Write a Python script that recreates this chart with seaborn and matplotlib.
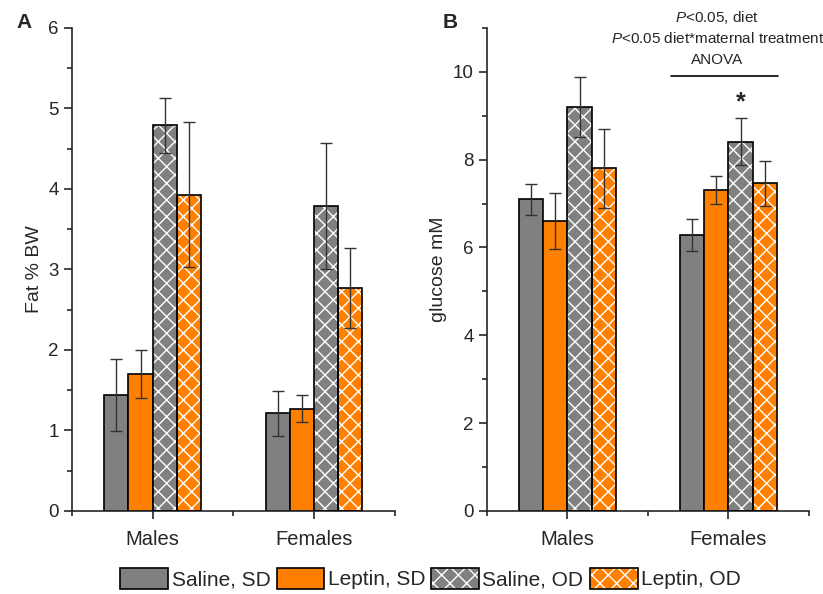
import numpy as np
import pandas as pd
import seaborn as sns
import matplotlib.pyplot as plt
from matplotlib.patches import Patch, Rectangle
from matplotlib.legend_handler import HandlerTuple
from matplotlib.ticker import MultipleLocator

# data
groups = ["Saline, SD", "Leptin, SD", "Saline, OD", "Leptin, OD"]
sexes = ["Males", "Females"]

fat_males = [1.44, 1.70, 4.79, 3.93]
fat_males_err = [0.45, 0.30, 0.34, 0.90]
fat_females = [1.21, 1.27, 3.79, 2.77]
fat_females_err = [0.28, 0.17, 0.78, 0.50]

glu_males = [7.10, 6.60, 9.20, 7.80]
glu_males_err = [0.35, 0.63, 0.68, 0.90]
glu_females = [6.29, 7.30, 8.41, 7.46]
glu_females_err = [0.36, 0.32, 0.53, 0.52]

colors = ["#808080", "#ff8000", "#808080", "#ff8000"]
hatches = ["", "", "xx", "xx"]

sns.set_style("ticks")
plt.rcParams["font.family"] = ["Liberation Sans", "DejaVu Sans"]
plt.rcParams["mathtext.fontset"] = "custom"
plt.rcParams["mathtext.rm"] = "Liberation Sans"
plt.rcParams["mathtext.it"] = "Liberation Sans:italic"
plt.rcParams["hatch.color"] = "white"
plt.rcParams["hatch.linewidth"] = 1.0


def make_df(males, males_err, females, females_err):
    rows = []
    for i, g in enumerate(groups):
        rows.append({"sex": "Males", "group": g, "val": males[i], "err": males_err[i]})
        rows.append({"sex": "Females", "group": g, "val": females[i], "err": females_err[i]})
    return pd.DataFrame(rows)


def draw_panel(ax, df):
    sns.barplot(data=df, x="sex", y="val", hue="group", order=sexes, hue_order=groups,
                palette=colors, width=0.6, gap=0, errorbar=None, legend=False,
                edgecolor="black", linewidth=1.2, ax=ax, saturation=1)
    bar_conts = list(ax.containers)
    for k, cont in enumerate(bar_conts):
        sub = df[df["group"] == groups[k]].set_index("sex").loc[sexes]
        xs = [b.get_x() + b.get_width() / 2 for b in cont]
        if hatches[k]:
            # hatch in white, outline redrawn in black on top
            for b in cont:
                b.set_hatch(hatches[k])
                b.set_edgecolor("white")
                b.set_linewidth(0)
                ax.add_patch(Rectangle((b.get_x(), 0), b.get_width(), b.get_height(),
                                       fill=False, edgecolor="black", linewidth=1.2, zorder=3))
        ax.errorbar(xs, sub["val"].values, yerr=sub["err"].values, fmt="none",
                    ecolor="#333333", elinewidth=1, capsize=4, capthick=1, zorder=4)
    ax.set_xlim(-0.5, 1.5)
    ax.set_xlabel("")
    sns.despine(ax=ax)
    ax.xaxis.set_minor_locator(MultipleLocator(0.5))
    ax.tick_params(axis="both", which="major", length=6, width=1.2, direction="out")
    ax.tick_params(axis="both", which="minor", length=3.5, width=1.2, direction="out")
    ax.tick_params(axis="y", labelsize=13.5)
    ax.tick_params(axis="x", labelsize=14.5, pad=8)
    for s in ax.spines.values():
        s.set_linewidth(1.2)
    return bar_conts


fig = plt.figure(figsize=(8.23, 5.94), dpi=100)
axA = fig.add_axes([0.0875, 0.14, 0.392, 0.813])
axB = fig.add_axes([0.5917, 0.14, 0.3913, 0.813])

dfA = make_df(fat_males, fat_males_err, fat_females, fat_females_err)
draw_panel(axA, dfA)
axA.set_ylim(0, 6)
axA.yaxis.set_major_locator(MultipleLocator(1))
axA.yaxis.set_minor_locator(MultipleLocator(0.5))
axA.set_ylabel("Fat % BW", fontsize=14)

dfB = make_df(glu_males, glu_males_err, glu_females, glu_females_err)
contsB = draw_panel(axB, dfB)
axB.set_ylim(0, 11)
axB.yaxis.set_major_locator(MultipleLocator(2))
axB.yaxis.set_minor_locator(MultipleLocator(1))
axB.set_ylabel("glucose mM", fontsize=14)

# significance annotations on panel B
star_bar = contsB[2][1]
axB.text(star_bar.get_x() + star_bar.get_width() / 2, glu_females[2] + glu_females_err[2] + 0.1,
         "*", ha="center", va="bottom", fontsize=18, fontweight="bold")
axB.plot([0.646, 1.31], [9.9, 9.9], color="black", lw=1.2, clip_on=False)
axB.text(0.93, 11.24, r"$\it{P}$<0.05, diet", ha="center", va="center", fontsize=11, clip_on=False)
axB.text(0.93, 10.75, r"$\it{P}$<0.05 diet*maternal treatment", ha="center", va="center",
         fontsize=11, clip_on=False)
axB.text(0.93, 10.28, "ANOVA", ha="center", va="center", fontsize=11, clip_on=False)

fig.text(16 / 823, 1 - 22 / 594, "A", fontsize=15, fontweight="bold", ha="left", va="center")
fig.text(443 / 823, 1 - 22 / 594, "B", fontsize=15, fontweight="bold", ha="left", va="center")

handles = []
for c, h in zip(colors, hatches):
    if h:
        fill = Patch(facecolor=c, edgecolor="white", hatch=h, linewidth=0)
        outline = Patch(facecolor="none", edgecolor="black", linewidth=1.2)
        handles.append((fill, outline))
    else:
        handles.append(Patch(facecolor=c, edgecolor="black", linewidth=1.2))
fig.legend(handles=handles, labels=groups, loc="center", bbox_to_anchor=(0.523, 0.026),
           ncol=4, frameon=False, fontsize=15, handlelength=2.3, handleheight=1.2,
           handletextpad=0.15, columnspacing=0.3, borderpad=0,
           handler_map={tuple: HandlerTuple(ndivide=1, pad=0)})

fig.savefig("out.png", dpi=100)
